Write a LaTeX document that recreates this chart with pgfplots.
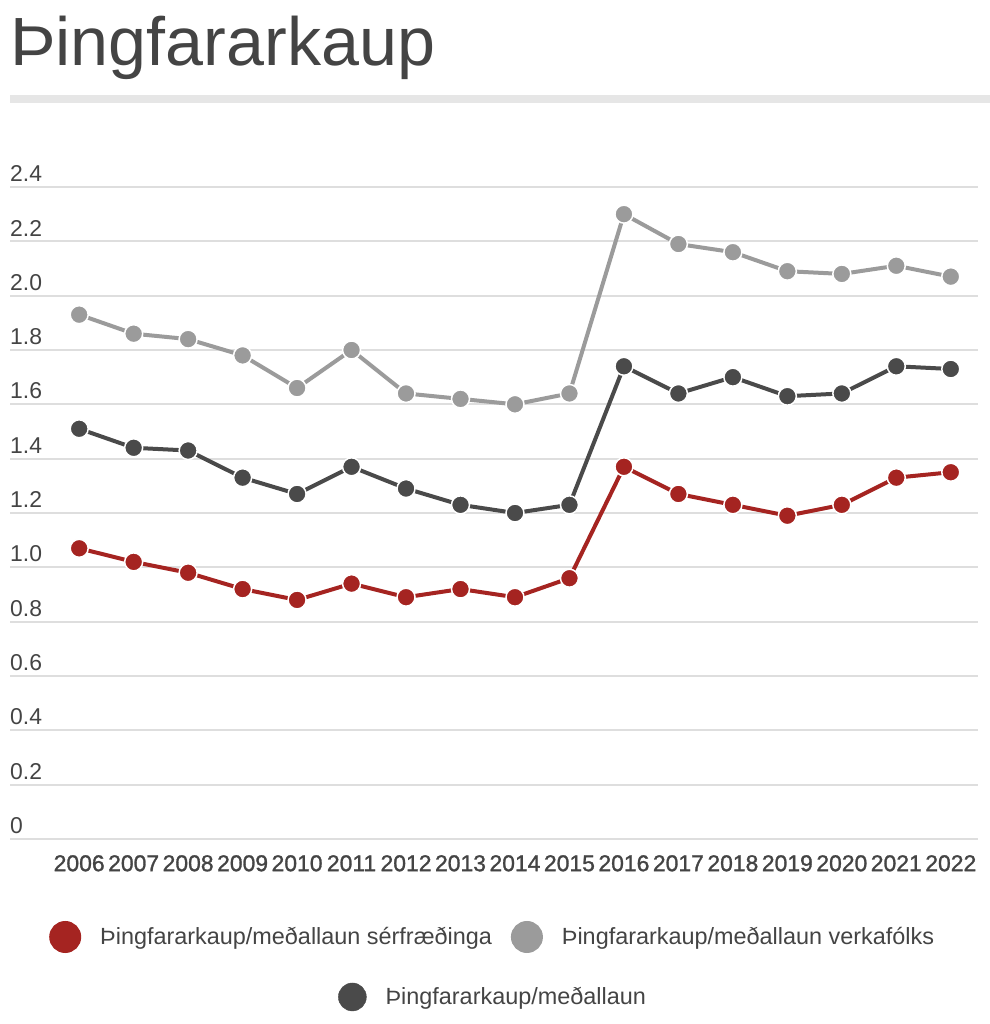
\documentclass[border=0pt]{standalone}
\usepackage{fontspec}
\setmainfont{Liberation Sans}
\newfontfamily\medfont[FakeBold=1.2]{Liberation Sans}
\usepackage{pgfplots}
\pgfplotsset{compat=1.18}
\definecolor{redc}{HTML}{A52421}
\definecolor{lgrey}{HTML}{9B9B9B}
\definecolor{dgrey}{HTML}{4A4A4A}
\definecolor{txt}{HTML}{444444}
\definecolor{gridc}{HTML}{DEDEDE}
\definecolor{barc}{HTML}{E6E6E6}
\newcommand\lab{\fontsize{23}{25}\selectfont}
\newcommand\yrs{\medfont\fontsize{23}{25}\selectfont}
\newcommand\leg{\fontsize{23.5}{25}\selectfont}
\pgfplotsset{
  base/.style={
    scale only axis, width=968bp, height=652bp,
    at={(10bp,185bp)}, anchor=south west,
    xmin=2004.73, xmax=2022.5, ymin=0, ymax=2.4, clip=false,
  },
  ser/.style={line width=4bp, color=#1, mark=*, mark size=9bp,
    mark options={fill=#1, draw=white, line width=1.5bp}},
}
\begin{document}
\begin{tikzpicture}[x=1bp,y=1bp]
\path (0,0) rectangle (990,1024);
\fill[barc] (10,921) rectangle (990,929);
\node[anchor=base west, inner sep=0, text=txt, font=\fontsize{68.5}{70}\selectfont] at (10,958) {Þingfararkaup};
\begin{axis}[base,
  axis line style={draw=none}, major tick length=0pt,
  ymajorgrids, grid style={gridc, line width=2bp},
  xtick={2006,2007,2008,2009,2010,2011,2012,2013,2014,2015,2016,2017,2018,2019,2020,2021,2022},
  xticklabels={2006,2007,2008,2009,2010,2011,2012,2013,2014,2015,2016,2017,2018,2019,2020,2021,2022},
  ytick={0,0.2,0.4,0.6,0.8,1.0,1.2,1.4,1.6,1.8,2.0,2.2,2.4},
  yticklabels={0,0.2,0.4,0.6,0.8,1.0,1.2,1.4,1.6,1.8,2.0,2.2,2.4},
  xticklabel style={font=\yrs, text=txt, anchor=north, inner sep=0pt, yshift=-16bp},
  yticklabel style={font=\lab, text=txt, anchor=south west, inner sep=0pt, yshift=5bp},
  legend columns=2,
  legend style={draw=none, fill=none, font=\leg, text=txt, inner sep=0pt,
    at={(0.0403,-0.1503)}, anchor=west,
    /tikz/every even column/.append style={column sep=17bp}},
  legend cell align=left,
]
\addplot[ser=redc, legend image code/.code={\fill[redc] (0,0) circle (14bp); \path (31bp,0);}] coordinates {
(2006,1.07)(2007,1.02)(2008,0.98)(2009,0.92)(2010,0.88)(2011,0.94)(2012,0.89)(2013,0.92)(2014,0.89)
(2015,0.96)(2016,1.37)(2017,1.27)(2018,1.23)(2019,1.19)(2020,1.23)(2021,1.33)(2022,1.35)};
\addlegendentry{Þingfararkaup/meðallaun sérfræðinga}
\addplot[ser=lgrey, legend image code/.code={\fill[lgrey] (0,0) circle (14bp); \path (31bp,0);}] coordinates {
(2006,1.93)(2007,1.86)(2008,1.84)(2009,1.78)(2010,1.66)(2011,1.80)(2012,1.64)(2013,1.62)(2014,1.60)
(2015,1.64)(2016,2.30)(2017,2.19)(2018,2.16)(2019,2.09)(2020,2.08)(2021,2.11)(2022,2.07)};
\addlegendentry{Þingfararkaup/meðallaun verkafólks}
\addplot[ser=dgrey, forget plot] coordinates {
(2006,1.51)(2007,1.44)(2008,1.43)(2009,1.33)(2010,1.27)(2011,1.37)(2012,1.29)(2013,1.23)(2014,1.20)
(2015,1.23)(2016,1.74)(2017,1.64)(2018,1.70)(2019,1.63)(2020,1.64)(2021,1.74)(2022,1.73)};
\end{axis}
\begin{axis}[base, hide axis,
  legend style={draw=none, fill=none, font=\leg, text=txt, inner sep=0pt,
    at={(0.3388,-0.2423)}, anchor=west},
  legend cell align=left,
]
\addlegendimage{legend image code/.code={\fill[dgrey] (0,0) circle (14bp); \path (31bp,0);}}
\addlegendentry{Þingfararkaup/meðallaun}
\end{axis}
\end{tikzpicture}
\end{document}
